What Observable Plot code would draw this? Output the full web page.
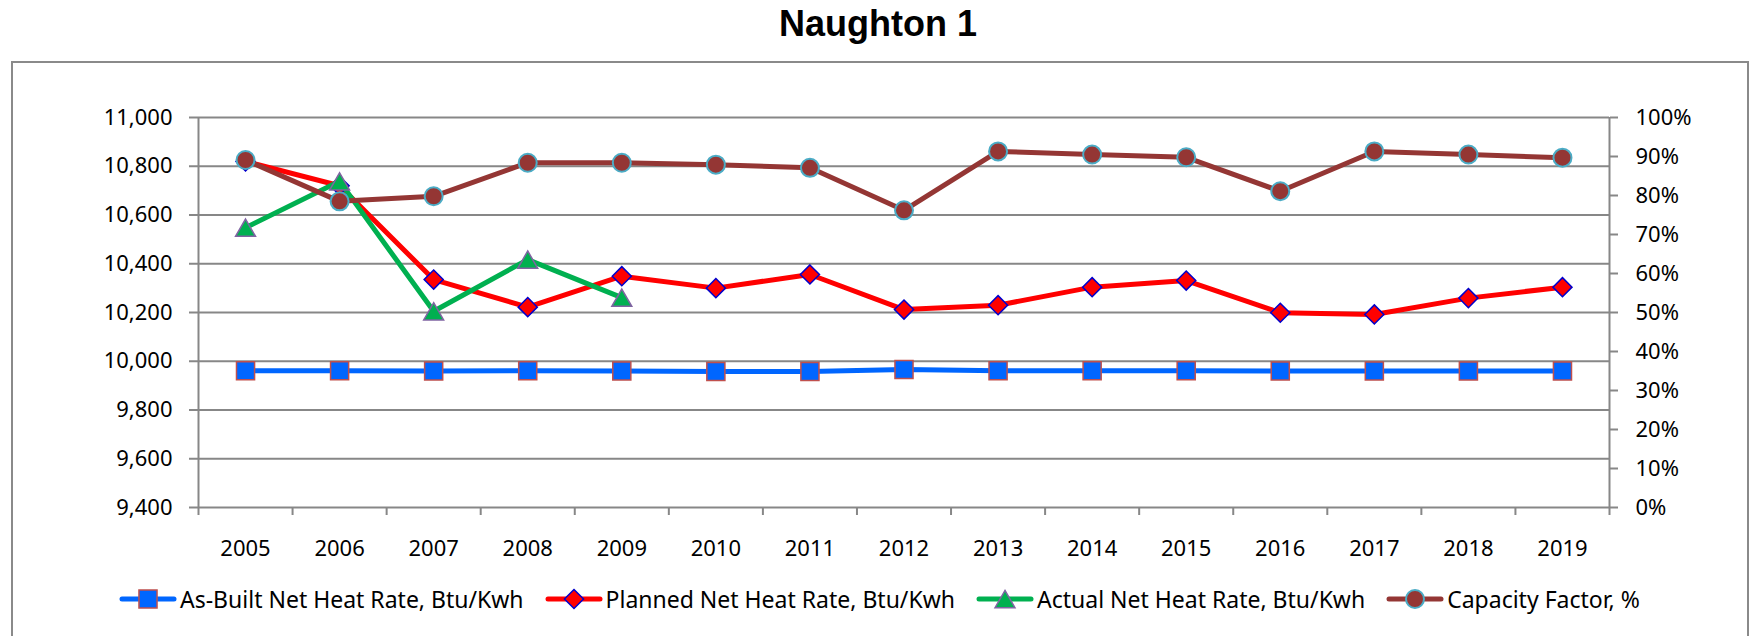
<!DOCTYPE html>
<html>
<head>
<meta charset="utf-8">
<script src="https://cdn.jsdelivr.net/npm/d3@7"></script>
<script src="https://cdn.jsdelivr.net/npm/@observablehq/plot@0.6"></script>
<style>
  body { margin: 0; background: #fff; width: 1752px; height: 636px; position: relative; overflow: hidden; font-family: "Noto Sans", sans-serif; }
  #title { position: absolute; left: 0; top: 5px; width: 1756px; text-align: center; font: bold 36px "Liberation Sans", Arial, sans-serif; line-height: 38px; color: #000; }
  #frame { position: absolute; left: 11px; top: 61px; width: 1734px; height: 620px; border: 2px solid #8a8a8a; }
  #chart { position: absolute; left: 0; top: 62px; }
  #legend { position: absolute; left: 119px; top: 584px; height: 30px; display: flex; align-items: center; gap: 21px; }
  .item { display: flex; align-items: center; height: 30px; font-size: 23px; color: #000; white-space: nowrap; }
  .item svg { display: block; margin-right: 3px; }
</style>
</head>
<body>
<div id="title">Naughton 1</div>
<div id="frame"></div>
<div id="chart"></div>
<div id="legend"></div>
<script>
// ---- data ----
const years = [2005, 2006, 2007, 2008, 2009, 2010, 2011, 2012, 2013, 2014, 2015, 2016, 2017, 2018, 2019];
const asBuilt = [9961, 9961, 9960, 9961, 9960, 9958, 9958, 9966, 9961, 9961, 9961, 9960, 9960, 9960, 9960];
const planned = [10820, 10720, 10335, 10222, 10349, 10300, 10356, 10212, 10230, 10304, 10331, 10199, 10192, 10259, 10304];
const actual = [10548, 10738, 10205, 10417, 10261];
const capacity = [89.1, 78.5, 79.8, 88.4, 88.4, 87.9, 87.1, 76.2, 91.3, 90.5, 89.8, 81.1, 91.3, 90.5, 89.7];
const leftTicks = [9400, 9600, 9800, 10000, 10200, 10400, 10600, 10800, 11000];
const rightTicks = [0, 10, 20, 30, 40, 50, 60, 70, 80, 90, 100];
const seriesNames = ["As-Built Net Heat Rate, Btu/Kwh", "Planned Net Heat Rate, Btu/Kwh", "Actual Net Heat Rate, Btu/Kwh", "Capacity Factor, %"];

// ---- mapping of secondary axis onto primary scale ----
const Y0 = leftTicks[0], Y1 = leftTicks[leftTicks.length - 1];
const cfToY = p => Y0 + p / 100 * (Y1 - Y0);
const bounds = [...years.map(y => y - 0.5), years[years.length - 1] + 0.5];

const styles = [
  {line: "#0066FF", symbol: "square",   fill: "#0066FF", stroke: "#C0504D", r: 10.2, sw: 1.5, dy: 0},
  {line: "#FF0000", symbol: "diamond2", fill: "#FF0000", stroke: "#0000CC", r: 8.6,  sw: 1.5, dy: 0},
  {line: "#00B050", symbol: "triangle", fill: "#00B050", stroke: "#8064A2", r: 7.4,  sw: 1.5, dy: 2.9},
  {line: "#943634", symbol: "circle",   fill: "#943634", stroke: "#4BACC6", r: 9.0,  sw: 2,   dy: 0}
];
const valuesList = [asBuilt, planned, actual, capacity.map(cfToY)];

const seriesRows = valuesList.map(vals => vals.map((v, i) => ({x: years[i], y: v})));

const gray = "#878787";
const marks = [
  Plot.ruleY(leftTicks, {stroke: gray, strokeWidth: 2}),
  Plot.ruleX([bounds[0], bounds[bounds.length - 1]], {stroke: gray, strokeWidth: 2}),
  Plot.axisY({anchor: "left", ticks: leftTicks, tickFormat: d3.format(","), tickSize: 9, tickPadding: 17, stroke: gray, strokeWidth: 2, fill: "black", label: null}),
  Plot.axisY({anchor: "right", ticks: rightTicks.map(cfToY), tickFormat: v => Math.round((v - Y0) / (Y1 - Y0) * 100) + "%", tickSize: 8, tickPadding: 18, stroke: gray, strokeWidth: 2, fill: "black", label: null}),
  Plot.axisX({ticks: bounds, tickSize: 8, tickFormat: () => "", stroke: gray, strokeWidth: 2, label: null}),
  Plot.axisX({ticks: years, tickSize: 0, tickPadding: 33, tickFormat: d => String(d), fill: "black", label: null})
];
seriesRows.forEach((rows, k) => {
  const s = styles[k];
  marks.push(Plot.line(rows, {x: "x", y: "y", stroke: s.line, strokeWidth: 5, strokeLinejoin: "round", strokeLinecap: "round"}));
  marks.push(Plot.dot(rows, {x: "x", y: "y", symbol: s.symbol, r: s.r, fill: s.fill, stroke: s.stroke, strokeWidth: s.sw, dy: s.dy}));
});

const chart = Plot.plot({
  width: 1752, height: 500,
  marginLeft: 198, marginRight: 143, marginTop: 55, marginBottom: 55,
  style: {fontFamily: "Noto Sans", fontSize: "22px", background: "transparent", color: "black", overflow: "visible"},
  x: {type: "linear", domain: [bounds[0], bounds[bounds.length - 1]]},
  y: {domain: [Y0, Y1]},
  marks
});
document.getElementById("chart").appendChild(chart);

// ---- legend ----
const symMap = {square: d3.symbolSquare, diamond2: d3.symbolDiamond2, triangle: d3.symbolTriangle, circle: d3.symbolCircle};
const legend = d3.select("#legend");
seriesNames.forEach((name, k) => {
  const s = styles[k];
  const item = legend.append("div").attr("class", "item");
  const svg = item.append("svg").attr("width", 58).attr("height", 26);
  svg.append("line").attr("x1", 3).attr("x2", 55).attr("y1", 13).attr("y2", 13)
    .attr("stroke", s.line).attr("stroke-width", 5).attr("stroke-linecap", "round");
  svg.append("path").attr("transform", `translate(29,${13 + s.dy})`)
    .attr("d", d3.symbol(symMap[s.symbol], Math.PI * s.r * s.r)())
    .attr("fill", s.fill).attr("stroke", s.stroke).attr("stroke-width", s.sw);
  item.append("span").text(name);
});
</script>
</body>
</html>
